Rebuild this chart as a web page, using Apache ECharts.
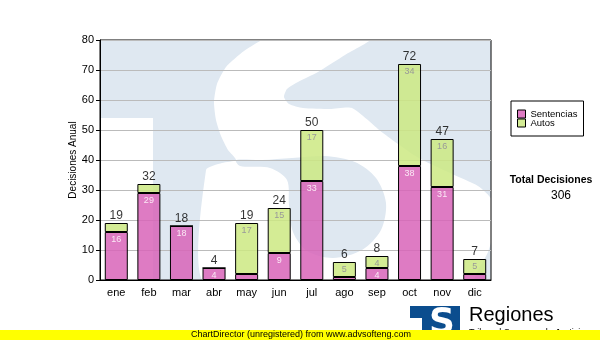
<!DOCTYPE html>
<html><head><meta charset="utf-8">
<script src="https://cdn.jsdelivr.net/npm/echarts@6/dist/echarts.min.js"></script>
<style>html,body{margin:0;padding:0;background:#fff}#c{width:600px;height:340px}</style>
</head><body><div id="c"></div>
<script>
const categories = ['ene','feb','mar','abr','may','jun','jul','ago','sep','oct','nov','dic'];
const sentencias = [16, 29, 18, 4, 2, 9, 33, 1, 4, 38, 31, 2];
const autos      = [3, 3, 0, 0, 17, 15, 17, 5, 4, 34, 16, 5];
const totals     = [19, 32, 18, 4, 19, 24, 50, 6, 8, 72, 47, 7];
const seriesNames = ['Sentencias', 'Autos'];
const yMin = 0, yMax = 80, yStep = 10;
const axisTitle = 'Decisiones Anual';
const totalTitle = 'Total Decisiones';
const totalValue = '306';
const footerText = 'ChartDirector (unregistered) from www.advsofteng.com';
const logoTitle = 'Regiones';
const logoSub = 'Tribunal Supremo de Justicia';

const FONT = "'Liberation Sans', Arial, sans-serif";
const chart = echarts.init(document.getElementById('c'), null, {renderer: 'canvas'});

const G = {left: 100, top: 40, w: 391, h: 240};

// decorative watermark: white "S" knocked out of a light blue "TS" backdrop
const sShape = [[268,38],[372,38],[345,55],[318,72],[298,82],[287,89],[284,97],[289,104],[303,108],[330,109],[352,108],
  [383,133],[417,157],[450,173],[478,186],[492,200],[494,230],[488,252],[478,270],[470,284],
  [206,284],[206,170],[222,163],[236,160],[228,150],[221,136],[216,120],[214,102],[217,84],[226,67],[244,51]];
const sCounter = [[236,160],[262,160],[292,158],[325,156],[355,162],[376,178],[386,203],[381,230],[362,250],[333,258],
  [307,251],[293,232],[289,205],[287,180],[270,168],[240,166]];

const graphic = [
  {type: 'rect', z: -10, silent: true, shape: {x: G.left, y: G.top, width: G.w, height: G.h}, style: {fill: '#dfe8f1'}},
  {type: 'rect', z: -9, silent: true, shape: {x: G.left, y: 118, width: 53, height: 162}, style: {fill: '#ffffff'}},
  {type: 'polygon', z: -9, silent: true, shape: {points: sShape, smooth: 0.2}, style: {fill: '#ffffff'}},
  {type: 'polygon', z: -9, silent: true, shape: {points: sCounter, smooth: 0.3}, style: {fill: '#dfe8f1'}},
  {type: 'rect', z: -8, silent: true, shape: {x: 0, y: 0, width: 600, height: G.top}, style: {fill: '#fff'}},
  {type: 'rect', z: -8, silent: true, shape: {x: 0, y: G.top + G.h, width: 600, height: 340 - G.top - G.h}, style: {fill: '#fff'}},
  {type: 'rect', z: -8, silent: true, shape: {x: 0, y: 0, width: G.left, height: 340}, style: {fill: '#fff'}},
  {type: 'rect', z: -8, silent: true, shape: {x: G.left + G.w, y: 0, width: 600 - G.left - G.w, height: 340}, style: {fill: '#fff'}},
  {type: 'text', z: 5, x: 551, y: 180, style: {text: totalTitle, align: 'center', verticalAlign: 'middle', font: "bold 10.5px " + FONT, fill: '#000'}},
  {type: 'text', z: 5, x: 561, y: 196, style: {text: totalValue, align: 'center', verticalAlign: 'middle', font: "12px " + FONT, fill: '#000'}},
  {type: 'rect', z: 5, shape: {x: 410, y: 306, width: 50, height: 34}, style: {fill: '#0b4d8e'}},
  {type: 'rect', z: 6, shape: {x: 410, y: 318, width: 12, height: 22}, style: {fill: '#fff'}},
  {type: 'text', z: 6, x: 442, y: 324, style: {text: 'S', align: 'center', verticalAlign: 'middle', font: "bold 36px 'DejaVu Sans'", fill: '#fff'}},
  {type: 'text', z: 5, x: 469, y: 315, style: {text: logoTitle, align: 'left', verticalAlign: 'middle', font: "20px " + FONT, fill: '#000'}},
  {type: 'text', z: 5, x: 469, y: 333, style: {text: logoSub, align: 'left', verticalAlign: 'middle', font: "9px " + FONT, fill: '#000'}},
  {type: 'rect', z: 10, shape: {x: 0, y: 330, width: 600, height: 10}, style: {fill: '#ffff00'}},
  {type: 'text', z: 11, x: 301, y: 335, style: {text: footerText, align: 'center', verticalAlign: 'middle', font: "9px " + FONT, fill: '#000'}}
];

const showIf = p => (p.value >= 4 ? String(p.value) : '');

chart.setOption({
  animation: false,
  textStyle: {fontFamily: FONT},
  grid: {left: G.left, top: G.top, width: G.w, height: G.h, show: true, borderColor: '#000', borderWidth: 1, backgroundColor: 'transparent'},
  legend: {
    data: seriesNames, orient: 'vertical', left: 511, top: 101,
    padding: [8, 6, 8, 6], itemGap: -1, itemWidth: 8, itemHeight: 8, icon: 'rect',
    itemStyle: {borderColor: '#000', borderWidth: 1},
    borderColor: '#000', borderWidth: 1, backgroundColor: '#fff',
    textStyle: {fontSize: 9.5, lineHeight: 10, color: '#000', fontFamily: FONT}
  },
  xAxis: {
    type: 'category', data: categories,
    axisLine: {lineStyle: {color: '#000', width: 1}},
    axisTick: {alignWithLabel: true, length: 4, lineStyle: {color: '#000'}},
    axisLabel: {color: '#000', fontSize: 11, margin: 7, fontFamily: FONT}
  },
  yAxis: {
    type: 'value', min: yMin, max: yMax, interval: yStep,
    name: axisTitle, nameLocation: 'middle', nameGap: 22, nameRotate: 90, nameMoveOverlap: false,
    nameTextStyle: {fontSize: 10, color: '#000', fontFamily: FONT},
    axisLine: {show: true, lineStyle: {color: '#000', width: 1}},
    axisTick: {show: true, length: 4, lineStyle: {color: '#000'}},
    axisLabel: {color: '#000', fontSize: 11, margin: 6, fontFamily: FONT},
    splitLine: {show: true, lineStyle: {color: '#bbbbbb', width: 1}}
  },
  graphic: graphic,
  series: [
    {name: seriesNames[0], type: 'bar', stack: 'total', data: sentencias, barWidth: 23,
      itemStyle: {color: 'rgba(216,100,184,0.85)', borderColor: '#000', borderWidth: 1},
      label: {show: true, position: 'insideTop', distance: 3, fontSize: 9, color: '#fbe8f5', formatter: showIf}},
    {name: seriesNames[1], type: 'bar', stack: 'total', data: autos, barWidth: 23,
      itemStyle: {color: 'rgba(204,233,131,0.85)', borderColor: '#000', borderWidth: 1},
      label: {show: true, position: 'insideTop', distance: 3, fontSize: 9, color: '#999999', formatter: showIf}},
    {name: 'Total', type: 'scatter', data: totals, symbolSize: 1, silent: true, z: 5,
      itemStyle: {color: 'rgba(0,0,0,0)'},
      label: {show: true, position: 'top', distance: 1, fontSize: 12, color: '#000', formatter: '{c}'}}
  ]
});
</script></body></html>
